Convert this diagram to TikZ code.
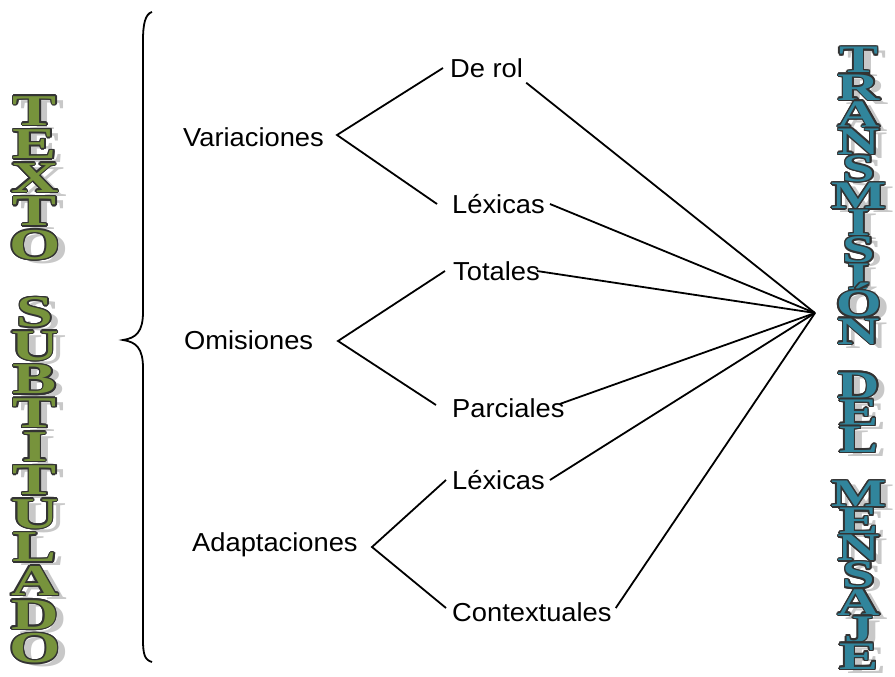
\documentclass[tikz,border=0pt]{standalone}
\usepackage{fontspec}
\setmainfont{Liberation Sans}[FakeStretch=1.05]
\newfontfamily\artfont{Liberation Serif}[FakeStretch=1.5]

\definecolor{verdeart}{HTML}{77933C}
\definecolor{azulart}{HTML}{31859C}
\definecolor{bordeart}{HTML}{333333}
\definecolor{sombraart}{HTML}{C8C8C8}

% letra con sombra y contorno (estilo WordArt)
\newcommand\artletter[2]{%
  \rlap{\color{sombraart}\kern8pt\raisebox{-4pt}{#2}}%
  \foreach \ang in {0,30,...,330}{\rlap{\color{bordeart}\kern\fpeval{1.5*cosd(\ang)}pt\raisebox{\fpeval{1.5*sind(\ang)}pt}{#2}}}%
  \textcolor{#1}{#2}}

\tikzset{
  rama/.style={font=\fontsize{26}{28}\selectfont, anchor=west, inner sep=0pt},
  linea/.style={line width=1.8pt},
  letraizq/.style={font=\artfont\bfseries\fontsize{44}{44}\selectfont, inner sep=0pt, anchor=base},
  letrader/.style={font=\artfont\bfseries\fontsize{39}{39}\selectfont, inner sep=0pt, anchor=base},
}

\begin{document}
\begin{tikzpicture}[x=1pt,y=-1pt]
    \useasboundingbox (0,0) rectangle (895,677);

    % columna izquierda
    \foreach \ch/\k in {T/0,E/1,X/2,T/3,O/4,S/6,U/7,B/8,T/9,I/10,T/11,U/12,L/13,A/14,D/15,O/16}
        \node[letraizq] (izq\k) at (35,{125+33.6*\k}) {\artletter{verdeart}{\ch}};

    % columna derecha
    \foreach \ch/\k in {T/0,R/1,A/2,N/3,S/4,M/5,I/6,S/7,I/8,Ó/9,N/10,D/12,E/13,L/14,M/16,E/17,N/18,S/19,A/20,J/21,E/22}
        \node[letrader] (der\k) at (859,{73+27.1*\k}) {\artletter{azulart}{\ch}};

    % llave
    \draw[line width=1.8pt] (152,12) .. controls (145,14) and (143,25) .. (143,40) -- (143,312)
        .. controls (143,332) and (136,338) .. (123,340)
        .. controls (136,342) and (143,348) .. (143,368) -- (143,640)
        .. controls (143,655) and (145,660) .. (152,662);

    % categorias
    \node[rama] (variac) at (183,137) {Variaciones};
    \node[rama] (omis) at (184,340) {Omisiones};
    \node[rama] (adapt) at (192,545) {Adaptaciones};

    \node[rama] (derol) at (450,68) {De rol};
    \node[rama] (lex1) at (452,204) {Léxicas};
    \node[rama] (totales) at (453,271) {Totales};
    \node[rama] (parc) at (452,408) {Parciales};
    \node[rama] (lex2) at (452,480) {Léxicas};
    \node[rama] (context) at (452,612) {Contextuales};

    \coordinate (v1) at (337,135);
    \coordinate (v2) at (338,341);
    \coordinate (v3) at (372,547);
    \coordinate (centro) at (815,313);

    % ramas
    \draw[linea] ([xshift=-7pt]derol.west) -- (v1) -- ([xshift=-15pt]lex1.west);
    \draw[linea] ([xshift=-8pt]totales.west) -- (v2) -- ([xshift=-16pt,yshift=3pt]parc.west);
    \draw[linea] ([xshift=-6pt]lex2.west) -- (v3) -- ([xshift=-6pt,yshift=4pt]context.west);

    % hacia la transmision
    \draw[linea] ([shift={(3pt,-5pt)}]derol.south east) -- (centro);
    \draw[linea] ([xshift=5pt]lex1.east) -- (centro);
    \draw[linea] ([xshift=-3pt]totales.east) -- (centro);
    \draw[linea] ([xshift=-5pt,yshift=4pt]parc.east) -- (centro);
    \draw[linea] ([xshift=5pt]lex2.east) -- (centro);
    \draw[linea] ([xshift=4pt,yshift=4pt]context.east) -- (centro);
\end{tikzpicture}
\end{document}
